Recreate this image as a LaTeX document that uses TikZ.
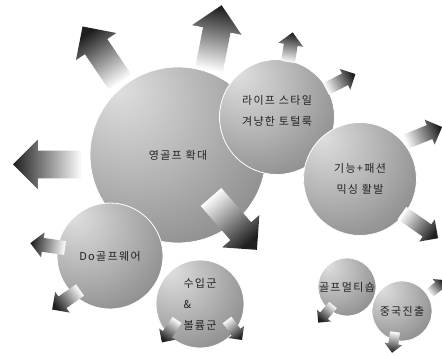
\documentclass[tikz,border=0pt]{standalone}
\usepackage{fontspec}
\newfontfamily\kr[LetterSpace=12]{Noto Sans CJK KR}
\usepackage{tikz}
\usetikzlibrary{calc}
\definecolor{inkgray}{RGB}{35, 35, 35}

% sphere-like grey shading for the bubbles
\pgfdeclareradialshading{bubbleshade}{\pgfpoint{-18bp}{20bp}}{%
  color(0bp)=(black!12); color(22bp)=(black!30); color(45bp)=(black!50);
  color(62bp)=(black!73); color(72bp)=(black!85)}

% block arrow: start, angle, length, half shaft width
\newcommand{\flowarrow}[4]{%
  \shade[arrowshade, shading angle=#2-90, shift={#1}, rotate=#2]
    (0,-#4) -- ({#3-1.8*#4},-#4) -- ({#3-1.8*#4},{-1.8*#4}) -- (#3,0)
    -- ({#3-1.8*#4},{1.8*#4}) -- ({#3-1.8*#4},#4) -- (0,#4) -- cycle;}

\begin{document}
\begin{tikzpicture}[x=1pt, y=1pt,
  bubble/.style={circle, shade, shading=bubbleshade, draw=white,
    line width=0.8pt, inner sep=0pt, align=center, text=inkgray,
    font=\kr\fontsize{11}{21}\selectfont},
  arrowshade/.style={top color=black!88, bottom color=white}]

  \clip (0,0) rectangle (442,356);

  % --- bubbles, back to front ---
  \node[bubble, minimum size=176pt] (big) at (178,201) {영골프 확대};
  \node[bubble, minimum size=115pt] (life) at (277,239)
    {라이프 스타일\\겨냥한 토털룩\\[-8pt]};
  \node[bubble, minimum size=113pt] (mix) at (360,177)
    {기능+패션\\믹싱 활발};
  \node[bubble, minimum size=106pt] (wear) at (110,100) {Do골프웨어};
  \node[bubble, minimum size=88pt, align=left] (brand) at (200,52)
    {수입군\\\&\\볼륨군};
  \node[bubble, minimum size=58pt] (shop) at (347,69) {골프멀티숍};
  \node[bubble, minimum size=60pt] (china) at (402,45) {중국진출};

  % --- arrows out of the big bubble ---
  \flowarrow{($(big)+(-58,73)$)}{124}{67}{13.5}
  \flowarrow{($(big)+(31,85)$)}{79}{66}{14}
  \flowarrow{($(big)+(-96,-9.5)$)}{180}{69}{13.8}
  \flowarrow{($(big)+(33,-42)$)}{-49}{70}{13.7}

  % --- smaller arrows ---
  \flowarrow{($(life)+(11,55)$)}{81}{30}{7}
  \flowarrow{($(life)+(49,28)$)}{27}{33}{6.5}
  \flowarrow{($(mix)+(45,37)$)}{22}{40}{7.5}
  \flowarrow{($(mix)+(42,-34)$)}{-35}{44}{7.5}
  \flowarrow{($(wear)+(-45,8)$)}{172}{35}{7}
  \flowarrow{($(wear)+(-30,-34)$)}{215}{34}{7}
  \flowarrow{($(brand)+(-23,-16)$)}{236}{27}{5.5}
  \flowarrow{($(brand)+(27,-16)$)}{-53}{25}{5.5}
  \flowarrow{($(shop)+(-14,-18)$)}{230}{23}{5}
  \flowarrow{($(china)+(28,18)$)}{40}{20}{5}
  \flowarrow{($(china)+(-7,-21)$)}{262}{21}{5}

\end{tikzpicture}
\end{document}
